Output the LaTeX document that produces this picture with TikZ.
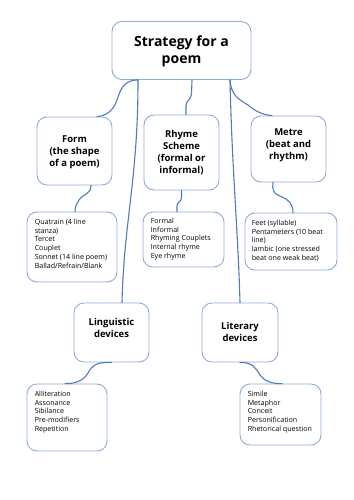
\documentclass[tikz,border=0pt]{standalone}
\usepackage{fontspec}
\setmainfont{Open Sans}
\definecolor{boxline}{HTML}{8DABD8}
\definecolor{conn}{HTML}{4F7BBE}
\tikzset{
  box/.style={draw=boxline, line width=0.9pt, rounded corners=10pt, fill=white, inner sep=0pt},
  head/.style={align=center, font=\fontsize{9.5}{12}\selectfont\bfseries},
  title/.style={align=center, font=\fontsize{14}{17}\selectfont\bfseries},
  body/.style={align=left, anchor=north west, inner sep=0pt, font=\fontsize{7.1}{8.9}\selectfont},
  link/.style={draw=conn, line width=1.1pt, line cap=round}
}
\begin{document}
\begin{tikzpicture}[x=1pt,y=-1pt]
\useasboundingbox (0,0) rectangle (353,500);
% main
\node[box, minimum width=139pt, minimum height=58pt] (main) at (181.5,50.5) {};
\node[title] (maint) at (181.5,51.5) {Strategy for a\\poem};
% second row
\node[box, minimum width=75pt, minimum height=68pt] (form) at (74.5,151) {};
\node[head] (formt) at (74.5,152) {Form\\(the shape\\of a poem)};
\node[box, minimum width=75pt, minimum height=75pt] (rhyme) at (181.5,152.5) {};
\node[head] (rhymet) at (181.5,153) {Rhyme\\Scheme\\(formal or\\informal)};
\node[box, minimum width=75pt, minimum height=66pt] (metre) at (288.5,149) {};
\node[head] (metret) at (288.5,145) {Metre\\(beat and\\rhythm)};
% lists
\node[box, minimum width=90pt, minimum height=70pt] (quat) at (72,247) {};
\node[body] (quatt) at ([shift={(8,7)}]quat.north west) {Quatrain (4 line\\stanza)\\Tercet\\Couplet\\Sonnet (14 line poem)\\Ballad/Refrain/Blank};
\node[box, minimum width=81pt, minimum height=55pt] (formal) at (183.5,239.5) {};
\node[body] (formalt) at ([shift={(8,6)}]formal.north west) {Formal\\Informal\\Rhyming Couplets\\Internal rhyme\\Eye rhyme};
\node[box, minimum width=92pt, minimum height=57pt] (feet) at (291,241.5) {};
\node[body] (feett) at ([shift={(7,7)}]feet.north west) {Feet (syllable)\\Pentameters (10 beat\\line)\\Iambic (one stressed\\beat one weak beat)};
% devices
\node[box, minimum width=75pt, minimum height=59pt] (ling) at (111.5,332.5) {};
\node[head] (lingt) at (111.5,328) {Linguistic\\devices};
\node[box, minimum width=76pt, minimum height=59pt] (lit) at (240,332.5) {};
\node[head] (litt) at (240,332) {Literary\\devices};
\node[box, minimum width=80pt, minimum height=67pt] (allit) at (67,417.5) {};
\node[body] (allitt) at ([shift={(8,7)}]allit.north west) {Alliteration\\Assonance\\Sibilance\\Pre-modifiers\\Repetition};
\node[box, minimum width=81pt, minimum height=61pt] (simile) at (280.5,414.5) {};
\node[body] (similet) at ([shift={(8,7)}]simile.north west) {Simile\\Metaphor\\Conceit\\Personification\\Rhetorical question};
% connectors
\draw[link] ([xshift=-43.5pt]main.south) .. controls (122,80) and (120,92) .. (117,100) .. controls (113,112) and (105,116) .. ([xshift=22.5pt]form.north);
\draw[link] ([xshift=-43.5pt]main.south) .. controls (138,180) and (124,220) .. ([xshift=10.5pt]ling.north);
\draw[link] ([xshift=10.5pt]main.south) -- (191.5,94) .. controls (191,100) and (186,100) .. (186,106) -- ([xshift=4.5pt]rhyme.north);
\draw[link] ([xshift=48.5pt]main.south) .. controls (232,170) and (238,230) .. (lit.north);
\draw[link] ([xshift=48.5pt]main.south) .. controls (231,96) and (240,100) .. (248,105) .. controls (256,112) and (264,115) .. ([xshift=-16.5pt]metre.north);
\draw[link] ([xshift=16.5pt]form.south) .. controls (91,195) and (82,194) .. (79,200) .. controls (76,205) and (75,207) .. ([xshift=3pt]quat.north);
\draw[link] (rhyme.south) -- (181.5,197) .. controls (181.5,203) and (177,201) .. (177,206) -- ([xshift=-6.5pt]formal.north);
\draw[link] ([xshift=-15.5pt]metre.south) .. controls (271,196) and (280,195) .. (286,199) .. controls (292,203) and (293,208) .. ([xshift=2pt]feet.north);
\draw[link] (ling.south) .. controls (95,362) and (92,366) .. (88,373) .. controls (84,380) and (76,384) .. ([xshift=-2pt]allit.north);
\draw[link] (lit.south) .. controls (252,362) and (256,368) .. (260,375) .. controls (264,381) and (272,384) .. ([xshift=1.5pt]simile.north);
\end{tikzpicture}
\end{document}
